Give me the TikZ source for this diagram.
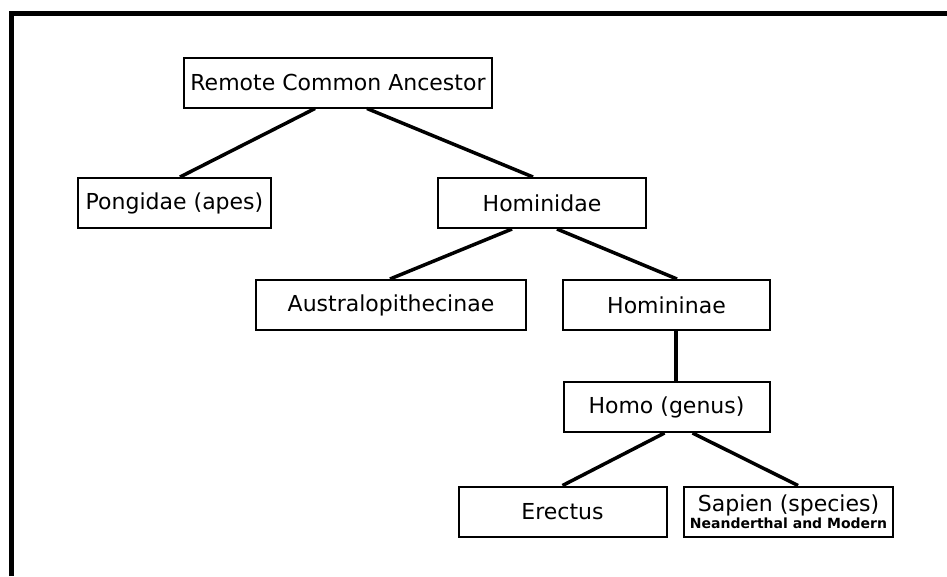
\documentclass[tikz,border=0pt]{standalone}
\usepackage{fontspec}
\setmainfont{DejaVu Sans}
\usepackage{tikz}
\usetikzlibrary{shapes,arrows}
\usetikzlibrary{positioning}
\tikzstyle{block} = [rectangle, draw, line width=2pt, fill=white, 
text centered, minimum height=50pt, font=\fontsize{22}{17}\selectfont]
\tikzstyle{line} = [draw, line width=3.5pt]
\tikzstyle{frame} = [draw, line width=5pt]

\begin{document}
\begin{tikzpicture}[x=1pt, y=1pt]
\useasboundingbox (0,0) rectangle (947,-576);
% Frame
\path [frame] (11,-576) -- (11,-13.5) -- (947,-13.5);

% Place nodes
\node [block, minimum width=308pt] at (338,-82.5) (i1) {Remote Common Ancestor};
\node [block, below of=i1, node distance=120.5pt, xshift=-163.5pt, minimum width=193pt] (i2) {Pongidae (apes)};
\node [block, right of=i2, node distance=367.5pt, minimum width=208pt] (i3) {Hominidae};
\node [block, below of=i3, node distance=102pt, xshift=-151pt, minimum width=270pt] (i4) {Australopithecinae};
\node [block, right of=i4, node distance=275.5pt, minimum width=207pt] (i5) {Homininae};
\node [block, below of=i5, node distance=102pt, minimum width=206pt] (i6) {Homo (genus)};
\node [block, below of=i6, node distance=104.5pt, xshift=-104pt, minimum width=208pt] (i7) {Erectus};
\node [block, right of=i7, node distance=226pt, minimum width=209pt, align=center] (i8) {Sapien (species)\\{\fontsize{14}{17}\selectfont\bfseries Neanderthal and Modern}};

% Draw edges
\path [line] ([xshift=-23pt]i1.south) -- ([xshift=5.5pt]i2.north);
\path [line] ([xshift=29pt]i1.south) -- ([xshift=-9pt]i3.north);
\path [line] ([xshift=-30pt]i3.south) -- ([xshift=-1pt]i4.north);
\path [line] ([xshift=15pt]i3.south) -- ([xshift=10.5pt]i5.north);
\path [line] ([xshift=9.5pt]i5.south) -- ([xshift=9.5pt]i6.north);
\path [line] ([xshift=-2pt]i6.south) -- (i7.north);
\path [line] ([xshift=26pt]i6.south) -- ([xshift=9.5pt]i8.north);
\end{tikzpicture}
\end{document}
